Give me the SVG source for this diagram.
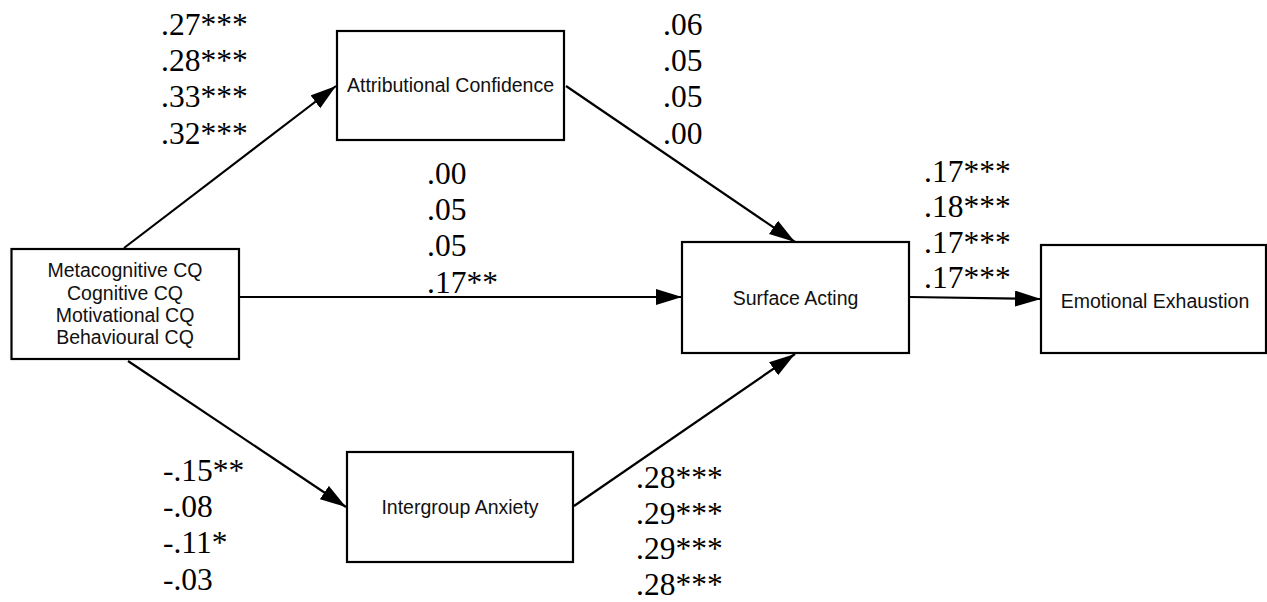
<svg xmlns="http://www.w3.org/2000/svg" width="1267" height="602" viewBox="0 0 1267 602">
  <style>
    .box { fill: #ffffff; stroke: #000000; stroke-width: 2.2; }
    .lbl { font-family: "Liberation Sans", Arial, sans-serif; font-size: 19.5px; fill: #111111; text-anchor: middle; }
    .coef { font-family: "Liberation Serif", "Times New Roman", serif; font-size: 31.5px; fill: #000000; }
    .edge { stroke: #000000; stroke-width: 2.2; fill: none; marker-end: url(#head); }
  </style>
  <defs>
    <marker id="head" markerUnits="userSpaceOnUse" markerWidth="27" markerHeight="17" refX="26" refY="8" orient="auto">
      <path d="M0,0 L26,8 L0,16 z" fill="#000000"/>
    </marker>
  </defs>
  <rect width="1267" height="602" fill="#ffffff"/>

  <!-- connectors -->
  <g id="connectors">
    <line class="edge" x1="124" y1="248" x2="336" y2="86"/>
    <line class="edge" x1="566" y1="86" x2="795" y2="242"/>
    <line class="edge" x1="240" y1="297" x2="682" y2="297"/>
    <line class="edge" x1="128" y1="361" x2="346" y2="507"/>
    <line class="edge" x1="574" y1="506" x2="795" y2="354"/>
    <line class="edge" x1="910" y1="297" x2="1041" y2="299"/>
  </g>

  <!-- nodes -->
  <g id="cq">
    <rect class="box" x="11.5" y="249" width="227.5" height="110"/>
    <text class="lbl" x="125" y="277">Metacognitive CQ</text>
    <text class="lbl" x="125" y="300">Cognitive CQ</text>
    <text class="lbl" x="125" y="322">Motivational CQ</text>
    <text class="lbl" x="125" y="344">Behavioural CQ</text>
  </g>
  <g id="attributional-confidence">
    <rect class="box" x="337" y="31" width="227" height="109"/>
    <text class="lbl" x="450.5" y="92">Attributional Confidence</text>
  </g>
  <g id="surface-acting">
    <rect class="box" x="682" y="242" width="227" height="111"/>
    <text class="lbl" x="795.5" y="305">Surface Acting</text>
  </g>
  <g id="emotional-exhaustion">
    <rect class="box" x="1041" y="245" width="225" height="108"/>
    <text class="lbl" x="1155" y="308">Emotional Exhaustion</text>
  </g>
  <g id="intergroup-anxiety">
    <rect class="box" x="347" y="452" width="226" height="110"/>
    <text class="lbl" x="460" y="514">Intergroup Anxiety</text>
  </g>

  <!-- path coefficients -->
  <g id="coefficients">
    <text class="coef" x="161" y="35">.27***</text>
    <text class="coef" x="161" y="71">.28***</text>
    <text class="coef" x="161" y="107">.33***</text>
    <text class="coef" x="161" y="144">.32***</text>

    <text class="coef" x="663" y="35">.06</text>
    <text class="coef" x="663" y="71">.05</text>
    <text class="coef" x="663" y="107">.05</text>
    <text class="coef" x="663" y="144">.00</text>

    <text class="coef" x="427" y="184">.00</text>
    <text class="coef" x="427" y="220">.05</text>
    <text class="coef" x="427" y="256">.05</text>
    <text class="coef" x="427" y="293">.17**</text>

    <text class="coef" x="924" y="182">.17***</text>
    <text class="coef" x="924" y="217">.18***</text>
    <text class="coef" x="924" y="253">.17***</text>
    <text class="coef" x="924" y="288">.17***</text>

    <text class="coef" x="163" y="481">-.15**</text>
    <text class="coef" x="163" y="517">-.08</text>
    <text class="coef" x="163" y="553">-.11*</text>
    <text class="coef" x="163" y="590">-.03</text>

    <text class="coef" x="636" y="488">.28***</text>
    <text class="coef" x="636" y="524">.29***</text>
    <text class="coef" x="636" y="559">.29***</text>
    <text class="coef" x="636" y="595">.28***</text>
  </g>
</svg>
